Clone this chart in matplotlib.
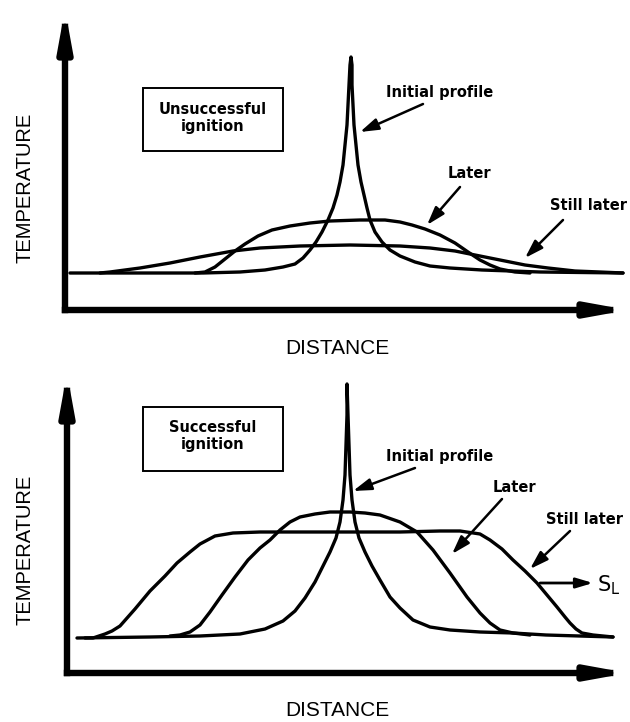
"""
Temperature profiles for unsuccessful and successful ignition (schematic).
"""

import matplotlib as mpl
import matplotlib.pyplot as plt
from matplotlib.patches import Rectangle

# Curves: distance from the temperature axis and
# temperature above the distance axis (arbitrary units, one per pixel).
TOP_INITIAL_D = [5, 85, 138, 175, 200, 218, 230, 238, 245, 251, 257, 263, 268,
                 272, 275, 278, 280, 282, 283, 284, 285, 286, 287, 287, 288,
                 289, 291, 293, 296, 299, 302, 305, 310, 317, 325, 335, 350,
                 365, 385, 417, 475, 558]
TOP_INITIAL_T = [37, 37, 37, 38, 40, 43, 46, 52, 60, 68, 78, 90, 102,
                 115, 128, 145, 165, 185, 205, 225, 245, 253, 245, 225, 205,
                 185, 165, 145, 128, 115, 102, 90, 78, 68, 60, 54, 48,
                 44, 42, 40, 38, 37]
TOP_LATER_D = [130, 140, 150, 160, 170, 180, 193, 207, 225, 245, 265, 295,
               320, 335, 347, 360, 375, 390, 403, 415, 425, 435, 450, 465]
TOP_LATER_T = [37, 38, 43, 51, 59, 66, 74, 80, 84, 87, 89, 90,
               90, 88, 85, 81, 75, 67, 58, 50, 45, 41, 38, 37]
TOP_STILL_D = [35, 45, 60, 75, 105, 135, 168, 195, 235, 285, 335, 365,
               390, 415, 440, 460, 483, 510, 535, 558]
TOP_STILL_T = [37, 38, 40, 42, 47, 53, 59, 62, 64, 65, 64, 62,
               59, 54, 49, 45, 42, 39, 38, 37]

BOT_INITIAL_D = [10, 83, 133, 173, 198, 216, 228, 238, 248, 256, 263, 269,
                 273, 276, 278, 279, 280, 280, 281, 282, 283, 285, 288, 292,
                 298, 305, 313, 323, 333, 346, 363, 383, 413, 446, 479, 546]
BOT_INITIAL_T = [35, 36, 37, 39, 44, 52, 62, 75, 91, 107, 121, 135,
                 151, 173, 198, 228, 258, 289, 258, 228, 198, 173, 151, 135,
                 121, 107, 93, 76, 65, 53, 46, 43, 41, 40, 38, 36]
BOT_LATER_D = [103, 113, 123, 133, 143, 155, 168, 181, 193, 203, 213, 223,
               233, 248, 263, 283, 298, 313, 333, 350, 366, 383, 400, 413,
               423, 433, 446, 463]
BOT_LATER_T = [37, 38, 41, 48, 61, 78, 96, 113, 125, 133, 143, 151,
               156, 159, 161, 161, 160, 158, 151, 141, 123, 100, 76, 60,
               50, 43, 40, 38]
BOT_STILL_D = [18, 26, 38, 45, 53, 68, 83, 98, 110, 123, 133, 148, 166,
               193, 233, 283, 333, 373, 393, 413, 423, 435, 446, 458, 470,
               480, 490, 498, 503, 509, 515, 526, 546]
BOT_STILL_T = [35, 35, 39, 42, 47, 64, 82, 97, 110, 121, 129, 137, 140,
               141, 141, 141, 141, 142, 142, 139, 133, 124, 113, 102, 90,
               78, 66, 56, 50, 44, 40, 38, 36]

FIGSIZE = [6.3, 7.22]
DPI = 100
LW_CURVE = 2.4
LW_AXIS = 4.6
FONT_LABEL = "Liberation Sans"
FONT_NOTE = "DejaVu Sans"


def main():
    mpl.rcParams["mathtext.fontset"] = "dejavusans"
    fig = plt.figure(figsize=FIGSIZE, dpi=DPI)
    ax_top = fig.add_axes([0, 0.5, 1, 0.5])
    ax_bot = fig.add_axes([0, 0, 1, 0.5])

    # --- top: unsuccessful ignition
    ax = ax_top
    ax.set_xlim(-65, 565)
    ax.set_ylim(-51, 310)
    draw_axes(ax, 563, 301, -40, 122, 272, -38)
    for d, t in [(TOP_INITIAL_D, TOP_INITIAL_T), (TOP_LATER_D, TOP_LATER_T),
                 (TOP_STILL_D, TOP_STILL_T)]:
        ax.plot(d, t, color="black", lw=LW_CURVE, solid_joinstyle="round",
                solid_capstyle="round")
    ax.add_patch(Rectangle((78, 159), 140, 63, fill=False, lw=1.4,
                           edgecolor="black"))
    ax.text(148, 192, "Unsuccessful\nignition", ha="center", va="center",
            fontsize=10.5, fontweight="bold", family=FONT_NOTE,
            linespacing=1.25)
    note(ax, "Initial profile", (375, 217), (358, 206), (295, 178))
    note(ax, "Later", (404, 137), (395, 123), (362, 85))
    note(ax, "Still later", (524, 105), (498, 90), (460, 52))

    # --- bottom: successful ignition
    ax = ax_bot
    ax.set_xlim(-67, 563)
    ax.set_ylim(-49, 312)
    draw_axes(ax, 561, 300, -42, 123, 270, -38)
    for d, t in [(BOT_INITIAL_D, BOT_INITIAL_T), (BOT_LATER_D, BOT_LATER_T),
                 (BOT_STILL_D, BOT_STILL_T)]:
        ax.plot(d, t, color="black", lw=LW_CURVE, solid_joinstyle="round",
                solid_capstyle="round")
    ax.add_patch(Rectangle((76, 202), 140, 64, fill=False, lw=1.4,
                           edgecolor="black"))
    ax.text(146, 237, "Successful\nignition", ha="center", va="center",
            fontsize=10.5, fontweight="bold", family=FONT_NOTE,
            linespacing=1.25)
    note(ax, "Initial profile", (373, 216), (348, 205), (286, 182))
    note(ax, "Later", (447, 185), (435, 174), (385, 119))
    note(ax, "Still later", (517, 153), (503, 142), (463, 104))
    ax.annotate("", xy=(526, 90), xytext=(473, 90),
                arrowprops=dict(arrowstyle="-|>,head_length=1.0,head_width=0.3",
                                mutation_scale=10, lw=2, color="black",
                                shrinkA=0, shrinkB=0))
    ax.text(530, 88, r"$\mathsf{S_L}$", ha="left", va="center", fontsize=15)

    fig.savefig("out.png", dpi=DPI)


def draw_axes(ax, x_end, y_end, ylab_x, ylab_y, xlab_x, xlab_y):
    ax.set_axis_off()
    style = "-|>,head_length=1.1,head_width=0.2"
    props = dict(arrowstyle=style, mutation_scale=20, lw=LW_AXIS,
                 color="black", shrinkA=0, shrinkB=0, capstyle="projecting")
    ax.annotate("", xy=(x_end, 0), xytext=(0, 0), arrowprops=props)
    ax.annotate("", xy=(0, y_end), xytext=(0, 0), arrowprops=props)
    ax.text(ylab_x, ylab_y, "TEMPERATURE", rotation=90, ha="center",
            va="center", fontsize=14.5, family=FONT_LABEL)
    ax.text(xlab_x, xlab_y, "DISTANCE", ha="center", va="center",
            fontsize=15, family=FONT_LABEL)


def note(ax, label, text_xy, tail, head):
    ax.text(text_xy[0], text_xy[1], label, ha="center", va="center",
            fontsize=10.5, fontweight="bold", family=FONT_NOTE)
    ax.annotate("", xy=head, xytext=tail,
                arrowprops=dict(arrowstyle="-|>,head_length=1.1,head_width=0.35",
                                mutation_scale=10, lw=1.8, color="black",
                                shrinkA=0, shrinkB=0))


if __name__ == "__main__":
    main()
